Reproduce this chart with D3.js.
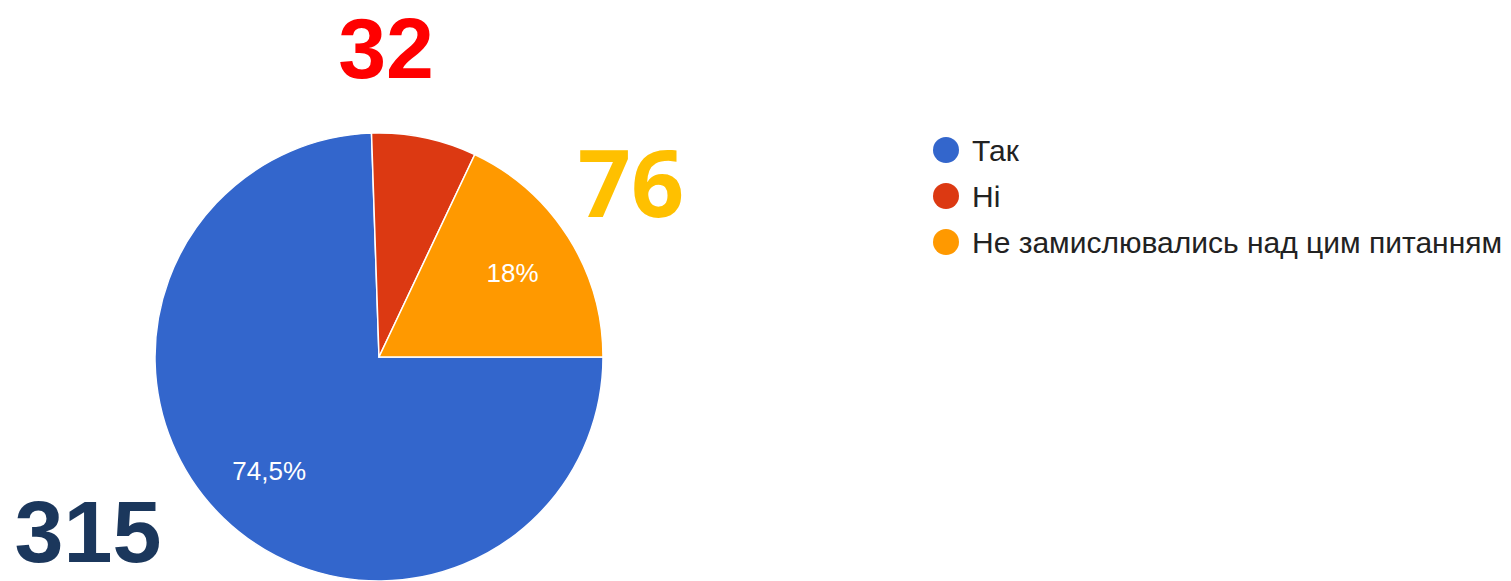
<!DOCTYPE html>
<html>
<head>
<meta charset="utf-8">
<script src="https://cdn.jsdelivr.net/npm/d3@7"></script>
<style>
  body { margin: 0; background: #fff; }
  svg { display: block; }
</style>
</head>
<body>
<svg id="pieChart" width="1511" height="581"></svg>
<script>
var categories = ["Так", "Ні", "Не замислювались над цим питанням"],
    counts = [315, 32, 76],
    percentLabels = ["74,5%", "7,6%", "18%"],
    colors = ["#3366cc", "#dc3912", "#ff9900"];

// big hand-written counts placed around the pie
var countColors = ["#1b375c", "#ff0000", "#ffc000"],
    countFonts = ["'Liberation Sans', Arial, sans-serif", "'Liberation Sans', Arial, sans-serif", "'Open Sans', sans-serif"],
    countPos = [[88, 562], [386, 78], [631, 217]],
    countSize = [88, 86, 93];

var svg = d3.select("#pieChart"),
    cx = 379,
    cy = 357,
    radius = 224;

var pie = d3.pie()
    .sort(null)
    .startAngle(Math.PI / 2)
    .endAngle(Math.PI / 2 + 2 * Math.PI);

var arc = d3.arc().innerRadius(0).outerRadius(radius),
    labelArc = d3.arc().innerRadius(158).outerRadius(158);

var g = svg.append("g")
    .attr("transform", "translate(" + cx + "," + cy + ")");

var slices = g.selectAll(".slice")
    .data(pie(counts))
    .enter().append("g")
    .attr("class", "slice");

slices.append("path")
    .attr("d", arc)
    .attr("fill", function(d, i) { return colors[i]; })
    .attr("stroke", "#fff")
    .attr("stroke-width", 1.5);

// percent labels only on the slices big enough
slices.filter(function(d) { return d.endAngle - d.startAngle > 0.6; })
    .append("text")
    .attr("transform", function(d) { return "translate(" + labelArc.centroid(d) + ")"; })
    .attr("dy", "0.36em")
    .attr("text-anchor", "middle")
    .attr("fill", "#fff")
    .style("font-family", "'Liberation Sans', Arial, sans-serif")
    .style("font-size", "26px")
    .text(function(d) { return percentLabels[d.index]; });

// legend
var legend = svg.append("g")
    .attr("transform", "translate(946, 150)");

var items = legend.selectAll(".item")
    .data(categories)
    .enter().append("g")
    .attr("class", "item")
    .attr("transform", function(d, i) { return "translate(0," + (i * 46) + ")"; });

items.append("circle")
    .attr("r", 13)
    .attr("fill", function(d, i) { return colors[i]; });

items.append("text")
    .attr("x", 26)
    .attr("dy", "0.36em")
    .attr("fill", "#222")
    .style("font-family", "'Liberation Sans', Arial, sans-serif")
    .style("font-size", "30px")
    .text(function(d) { return d; });

// counts
svg.selectAll(".count")
    .data(counts)
    .enter().append("text")
    .attr("class", "count")
    .attr("x", function(d, i) { return countPos[i][0]; })
    .attr("y", function(d, i) { return countPos[i][1]; })
    .attr("text-anchor", "middle")
    .attr("fill", function(d, i) { return countColors[i]; })
    .style("font-family", function(d, i) { return countFonts[i]; })
    .style("font-weight", "bold")
    .style("font-size", function(d, i) { return countSize[i] + "px"; })
    .text(function(d) { return d; });
</script>
</body>
</html>
